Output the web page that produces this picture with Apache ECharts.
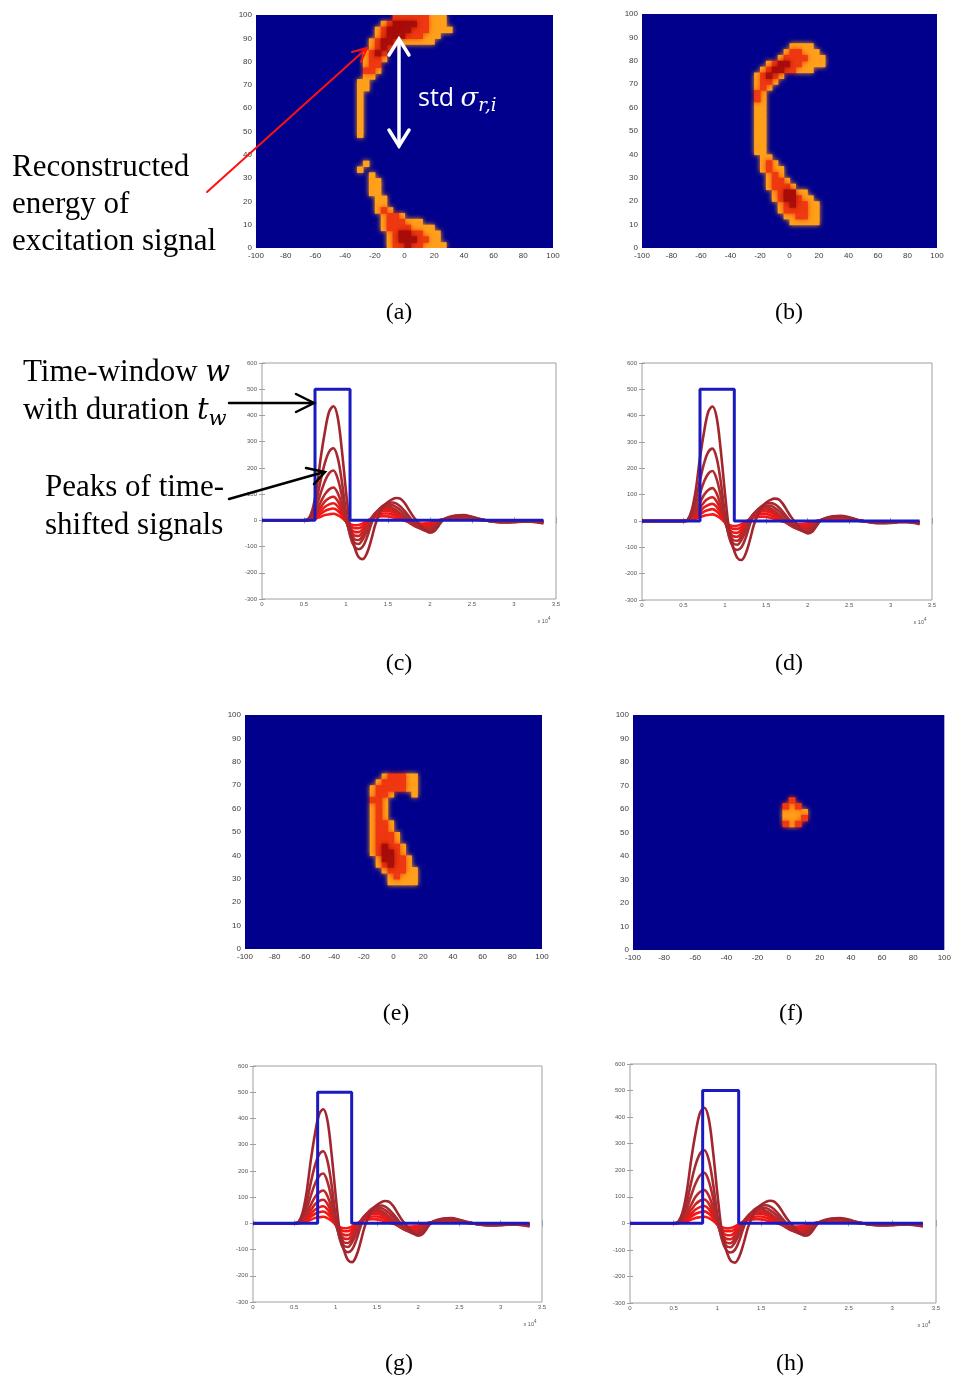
<!DOCTYPE html>
<html><head><meta charset="utf-8">
<script src="https://cdn.jsdelivr.net/npm/echarts@6/dist/echarts.min.js"></script>
<style>html,body{margin:0;padding:0;background:#fff}#c{width:954px;height:1382px}</style>
</head><body><div id="c"></div>
<script>
// ===================== DATA =====================
// Heatmap grids: x from -100..100, y from 0..100. Cells are 4 (x) by 2.5 (y).
// Rows are listed from the top (y=100) downwards; each string covers x = -40 .. 40.
// '.' = background, 'o' = orange, 'r' = red, 'd' = dark red
const HEAT_X_RANGE = [-100, 100];
const HEAT_Y_RANGE = [0, 100];
const HEAT_X_STEP = 20;
const HEAT_Y_STEP = 10;
const HEAT_CELL_W = 4;
const HEAT_CELL_H = 2.5;
const HEAT_STRIP_X0 = -40;
const HEAT_LEVELS = { '.': 0, 'o': 1, 'r': 2, 'd': 3 };

const MAP_A_FIRST_ROW = 0;
const MAP_A = [
  "........rrrrrrooo...",
  "......orddddrrooo...",
  ".....orddddrrroooo..",
  ".....ordddrrrooo....",
  "....orddroooooo.....",
  "....ordr............",
  "...ordr.............",
  "...orro.............",
  "...orr..............",
  "...rro..............",
  "...oo...............",
  "..oo................",
  "..oo................",
  "..o.................",
  "..o.................",
  "..o.................",
  "..o.................",
  "..o.................",
  "..o.................",
  "..o.................",
  "..o.................",
  "....................",
  "....................",
  "....................",
  "....................",
  "...o................",
  "..o.................",
  "....o...............",
  "....oo..............",
  "....oo..............",
  "....oo..............",
  ".....oo.............",
  ".....oo.............",
  ".....oro............",
  "......orro..........",
  "......orrrooo.......",
  "......orrrroooo.....",
  ".......orddrrooo....",
  ".......ordddrroo....",
  ".......orrdrroooo..."
];

const MAP_B_FIRST_ROW = 5;
const MAP_B = [
  "..........oooo......",
  ".........orrooo.....",
  "........orrrrooo....",
  "......orddrroooo....",
  ".....orddrrooo......",
  "....ordro...........",
  "....orro............",
  "....oro.............",
  "....ro..............",
  "....ro..............",
  "....oo..............",
  "....oo..............",
  "....oo..............",
  "....oo..............",
  "....oo..............",
  "....oo..............",
  "....oo..............",
  "....oo..............",
  "....oo..............",
  ".....oo.............",
  ".....oro............",
  ".....oroo...........",
  "......oro...........",
  "......orro..........",
  "......orrro.........",
  ".......orddoo.......",
  ".......orddroo......",
  "........ordrroo.....",
  "........orrrroo.....",
  ".........oorroo.....",
  "..........ooooo....."
];

const MAP_E_FIRST_ROW = 10;
const MAP_E = [
  "........orrroo......",
  ".......orrrroo......",
  "......orrrrroo......",
  "......orro...o......",
  "......rro...........",
  "......oro...........",
  "......oro...........",
  "......oro...........",
  "......orro..........",
  "......orro..........",
  "......orrro.........",
  "......orrro.........",
  "......ordrro........",
  "......orddro........",
  ".......oddrro.......",
  ".......ordrro.......",
  "........orrroo......",
  ".........orooo......",
  ".........ooooo......"
];

const MAP_F_FIRST_ROW = 14;
const MAP_F = [
  "..........r.........",
  ".........ror........",
  ".........oooo.......",
  ".........ooor.......",
  ".........ror........"
];

// Time signals (time in units of 10^4)
const SIGNAL_T = [0,0.5,0.55,0.6,0.65,0.7,0.75,0.8,0.85,0.9,0.95,1.0,1.05,1.1,1.15,1.2,1.25,1.3,1.35,1.4,1.45,1.5,1.55,1.6,1.65,1.7,1.75,1.8,1.85,1.9,1.95,2.0,2.05,2.1,2.15,2.2,2.3,2.4,2.5,2.6,2.7,2.8,2.9,3.0,3.1,3.2,3.35];
const SIG_1 = [0,0,5,40,120,240,340,415,435,395,270,110,-30,-100,-140,-148,-125,-75,-15,25,55,70,80,85,82,65,40,15,-5,-25,-40,-47,-42,-22,0,10,18,20,14,5,-2,-7,-8,-7,-5,-5,-12];
const SIG_2 = [0,0,4,28,80,155,220,262,275,240,150,30,-60,-100,-110,-100,-65,-15,25,45,58,66,68,64,52,35,15,-5,-22,-33,-40,-40,-32,-15,0,8,16,17,12,4,-2,-6,-7,-6,-4,-4,-10];
const SIG_3 = [0,0,3,20,55,105,150,180,190,160,95,10,-55,-85,-90,-72,-40,-5,25,42,52,58,58,50,38,22,5,-12,-25,-33,-37,-36,-27,-12,0,7,14,15,10,3,-2,-5,-6,-5,-3,-3,-8];
const SIG_4 = [0,0,2,14,38,70,100,118,125,105,60,0,-45,-72,-75,-58,-28,3,28,42,50,52,48,38,25,10,-5,-18,-27,-32,-33,-30,-20,-7,2,7,13,13,9,3,-2,-4,-5,-4,-3,-3,-7];
const SIG_5 = [0,0,2,10,28,50,72,85,90,75,42,-3,-38,-58,-60,-45,-18,8,28,38,43,44,40,30,18,5,-8,-18,-25,-28,-28,-24,-15,-4,3,7,11,11,8,2,-1,-4,-4,-4,-3,-2,-6];
const SIG_6 = [0,0,1,7,20,36,52,61,65,54,30,-4,-30,-44,-45,-33,-12,8,24,32,36,36,32,24,13,3,-8,-16,-21,-23,-23,-19,-11,-2,3,6,9,9,6,2,-1,-3,-3,-3,-2,-2,-5];
const SIG_7 = [0,0,1,5,14,25,36,42,45,37,20,-4,-22,-30,-30,-22,-7,7,18,24,26,26,22,16,8,0,-7,-12,-16,-17,-17,-14,-8,-1,3,5,7,7,5,1,-1,-2,-2,-2,-2,-1,-4];
const SIG_8 = [0,0,1,3,8,14,20,23,25,20,10,-4,-14,-19,-18,-12,-2,6,12,15,16,15,12,8,3,-2,-6,-9,-11,-12,-11,-9,-5,0,2,3,5,5,3,1,-1,-1,-2,-1,-1,-1,-3];
const SIGNALS = [SIG_1, SIG_2, SIG_3, SIG_4, SIG_5, SIG_6, SIG_7, SIG_8];

// Time windows (panels c, d, g, h)
const WINDOW_START = [0.631, 0.700, 0.783, 0.831];
const WINDOW_END   = [1.048, 1.114, 1.195, 1.243];
const WINDOW_LEVEL = 500;
const SIGNAL_END = 3.35;
const LINE_X_RANGE = [0, 3.5];
const LINE_X_STEP = 0.5;
const LINE_Y_RANGE = [-300, 600];
const LINE_Y_STEP = 100;

// ===================== STYLE / LAYOUT =====================
const HEAT_LEVEL_COLORS = ['#00008C', '#FFA01C', '#EE3A12', '#A80E0A'];
const SIGNAL_COLORS = ['#A3262E', '#A82A30', '#AE2C30', '#BC2828', '#D42020', '#E81A1A', '#F21616', '#F81818'];
const WINDOW_COLOR = '#1A1AC0';
const HEAT_BOXES = [[256,15,297,233],[642,14,295,234],[245,715,297,234],[633,715,315,235]];
const LINE_BOXES = [[262,363,294,236],[642,363,290,237],[253,1066,289,236],[630,1064,306,239]];

function parseMap(rows, firstRow) {
  const cells = [];
  rows.forEach((s, r) => {
    const y0 = HEAT_Y_RANGE[1] - (firstRow + r + 1) * HEAT_CELL_H;
    for (let c = 0; c < s.length; c++) {
      const lv = HEAT_LEVELS[s[c]] || 0;
      if (lv > 0) cells.push([HEAT_STRIP_X0 + c * HEAT_CELL_W, y0, lv]);
    }
  });
  // draw lighter levels first so dark cores sit on top
  cells.sort((a, b) => a[2] - b[2]);
  return cells;
}

function heatRender(params, api) {
  const x0 = api.value(0), y0 = api.value(1), lv = api.value(2);
  const a = api.coord([x0, y0 + HEAT_CELL_H]);
  const b = api.coord([x0 + HEAT_CELL_W, y0]);
  const col = HEAT_LEVEL_COLORS[lv];
  return { type: 'rect', shape: { x: a[0], y: a[1], width: b[0] - a[0] + 0.6, height: b[1] - a[1] + 0.6 },
           style: { fill: col, shadowBlur: 5, shadowColor: col } };
}

const option = { animation: false, backgroundColor: '#fff', grid: [], xAxis: [], yAxis: [], series: [], graphic: [] };

const heatMaps = [[MAP_A, MAP_A_FIRST_ROW], [MAP_B, MAP_B_FIRST_ROW], [MAP_E, MAP_E_FIRST_ROW], [MAP_F, MAP_F_FIRST_ROW]];
const lblFont = 'Liberation Sans';

heatMaps.forEach((m, i) => {
  const box = HEAT_BOXES[i];
  const gi = option.grid.length;
  option.grid.push({ left: box[0], top: box[1], width: box[2], height: box[3], show: true, backgroundColor: HEAT_LEVEL_COLORS[0], borderWidth: 0 });
  const xi = option.xAxis.length, yi = option.yAxis.length;
  option.xAxis.push({ gridIndex: gi, type: 'value', min: HEAT_X_RANGE[0], max: HEAT_X_RANGE[1], interval: HEAT_X_STEP,
    axisLine: { show: false }, axisTick: { show: false }, splitLine: { show: false },
    axisLabel: { fontSize: 8, color: '#3a3a3a', margin: 4, fontFamily: lblFont } });
  option.yAxis.push({ gridIndex: gi, type: 'value', min: HEAT_Y_RANGE[0], max: HEAT_Y_RANGE[1], interval: HEAT_Y_STEP,
    axisLine: { show: false }, axisTick: { show: false }, splitLine: { show: false },
    axisLabel: { fontSize: 8, color: '#3a3a3a', margin: 4, fontFamily: lblFont } });
  option.series.push({ type: 'custom', xAxisIndex: xi, yAxisIndex: yi, renderItem: heatRender, clip: true,
    data: parseMap(m[0], m[1]) });
});

LINE_BOXES.forEach((box, i) => {
  const gi = option.grid.length;
  option.grid.push({ left: box[0], top: box[1], width: box[2], height: box[3], show: true, backgroundColor: '#fff', borderColor: '#a0a0a0', borderWidth: 1 });
  const xi = option.xAxis.length, yi = option.yAxis.length;
  const tick = { show: true, inside: true, length: 3, lineStyle: { color: '#a0a0a0', width: 1 } };
  option.xAxis.push({ gridIndex: gi, type: 'value', min: LINE_X_RANGE[0], max: LINE_X_RANGE[1], interval: LINE_X_STEP,
    axisLine: { show: false }, axisTick: tick, splitLine: { show: false },
    axisLabel: { fontSize: 6, color: '#555', margin: 2, fontFamily: lblFont } });
  option.xAxis.push({ gridIndex: gi, type: 'value', position: 'top', min: LINE_X_RANGE[0], max: LINE_X_RANGE[1], interval: LINE_X_STEP,
    axisLine: { show: false }, axisTick: tick, splitLine: { show: false }, axisLabel: { show: false } });
  option.yAxis.push({ gridIndex: gi, type: 'value', min: LINE_Y_RANGE[0], max: LINE_Y_RANGE[1], interval: LINE_Y_STEP,
    axisLine: { show: false }, axisTick: tick, splitLine: { show: false },
    axisLabel: { fontSize: 6, color: '#555', margin: 5, fontFamily: lblFont } });
  option.yAxis.push({ gridIndex: gi, type: 'value', position: 'right', min: LINE_Y_RANGE[0], max: LINE_Y_RANGE[1], interval: LINE_Y_STEP,
    axisLine: { show: false }, axisTick: tick, splitLine: { show: false }, axisLabel: { show: false } });
  SIGNALS.forEach((sig, k) => {
    option.series.push({ type: 'line', xAxisIndex: xi, yAxisIndex: yi, symbol: 'none', smooth: 0.35,
      lineStyle: { color: SIGNAL_COLORS[k], width: 2.6 }, z: 2 + (SIGNALS.length - k) * 0.01,
      data: sig.map((v, j) => [SIGNAL_T[j], v]) });
  });
  option.series.push({ type: 'line', xAxisIndex: xi, yAxisIndex: yi, symbol: 'none', z: 5,
    lineStyle: { color: WINDOW_COLOR, width: 3 },
    data: [[0, 0], [WINDOW_START[i], 0], [WINDOW_START[i], WINDOW_LEVEL], [WINDOW_END[i], WINDOW_LEVEL], [WINDOW_END[i], 0], [SIGNAL_END, 0]] });
  option.graphic.push({ type: 'text', x: box[0] + box[2] - 12, y: box[1] + box[3] + 22,
    style: { text: '{a|x 10}{b|4}', rich: { a: { fontSize: 5.5, fill: '#555', color: '#555', fontFamily: lblFont },
      b: { fontSize: 4.5, fill: '#555', color: '#555', fontFamily: lblFont, padding: [0, 0, 5, 0] } },
      textAlign: 'center', align: 'center', textVerticalAlign: 'middle', verticalAlign: 'middle' } });
});

// ---------- annotations ----------
const serif = 'Liberation Serif';
function txt(x, y, text, size, extra) {
  return { type: 'text', x: x, y: y, z: 100,
    style: Object.assign({ text: text, fontSize: size, fontFamily: serif, fill: '#000',
      textAlign: 'left', align: 'left', textVerticalAlign: 'middle', verticalAlign: 'middle' }, extra || {}) };
}
const G = option.graphic;
G.push(txt(12, 168, 'Reconstructed', 31));
G.push(txt(12, 205, 'energy of', 31));
G.push(txt(12, 242, 'excitation signal', 31));
G.push(txt(23, 373, '{n|Time-window }{i|w}', 31, { rich: {
  n: { fontSize: 31, fontFamily: serif, fill: '#000', color: '#000' },
  i: { fontSize: 29, fontFamily: 'DejaVu Serif', fontStyle: 'italic', fill: '#000', color: '#000' } } }));
G.push(txt(23, 411, '{n|with duration }{i|t}{s|w}', 31, { rich: {
  n: { fontSize: 31, fontFamily: serif, fill: '#000', color: '#000' },
  i: { fontSize: 29, fontFamily: 'DejaVu Serif', fontStyle: 'italic', fill: '#000', color: '#000' },
  s: { fontSize: 21, fontFamily: 'DejaVu Serif', fontStyle: 'italic', fill: '#000', color: '#000', padding: [18, 0, 0, 0] } } }));
G.push(txt(45, 488, 'Peaks of time-', 31));
G.push(txt(45, 526, 'shifted signals', 31));
G.push(txt(418, 99, '{n|std }{i|σ}{s|r,i}', 25, { rich: {
  n: { fontSize: 25, fontFamily: 'Open Sans', fill: '#fff', color: '#fff' },
  i: { fontSize: 26, fontFamily: 'DejaVu Serif', fontStyle: 'italic', fill: '#fff', color: '#fff' },
  s: { fontSize: 18, fontFamily: 'DejaVu Serif', fontStyle: 'italic', fill: '#fff', color: '#fff', padding: [14, 0, 0, 0] } } }));

// captions
[['(a)', 399, 313], ['(b)', 789, 313], ['(c)', 399, 664], ['(d)', 789, 664],
 ['(e)', 396, 1014], ['(f)', 791, 1014], ['(g)', 399, 1364], ['(h)', 790, 1364]].forEach(c => {
  G.push(txt(c[1], c[2], c[0], 24, { textAlign: 'center', align: 'center' }));
});

// arrows
function seg(x1, y1, x2, y2, color, w) {
  return { type: 'line', z: 101, shape: { x1: x1, y1: y1, x2: x2, y2: y2 }, style: { stroke: color, lineWidth: w, lineCap: 'round' } };
}
function head(pts, color, w) {
  return { type: 'polyline', z: 101, shape: { points: pts }, style: { stroke: color, lineWidth: w, fill: null, lineJoin: 'miter', lineCap: 'round' } };
}
G.push(seg(207, 192, 367, 48, '#ff1010', 2));
G.push(head([[352, 52], [367, 48], [361, 62]], '#ff1010', 2));
G.push(seg(399, 40, 399, 146, '#ffffff', 3.5));
G.push(head([[389, 55], [399, 39], [409, 55]], '#ffffff', 3.5));
G.push(head([[389, 130], [399, 146], [409, 130]], '#ffffff', 3.5));
G.push(seg(229, 403, 313, 403, '#000', 2.5));
G.push(head([[296, 394], [314, 403], [296, 412]], '#000', 2.5));
G.push(seg(229, 499, 324, 472, '#000', 2.5));
G.push(head([[306, 468], [325, 472], [314, 484]], '#000', 2.5));

const chart = echarts.init(document.getElementById('c'), null, { renderer: 'canvas' });
chart.setOption(option);
</script></body></html>
